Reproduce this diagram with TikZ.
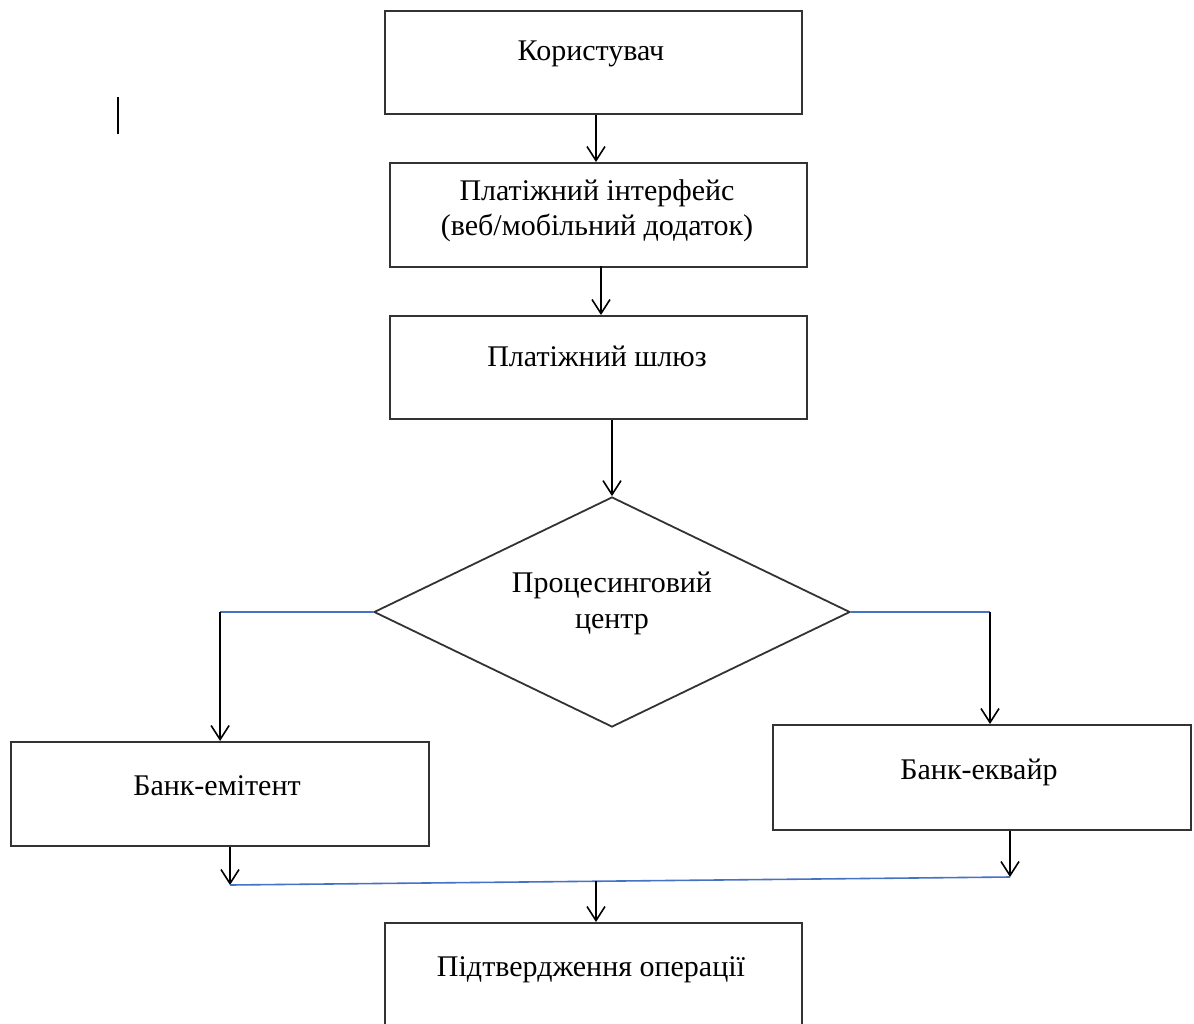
\documentclass[tikz,border=0pt]{standalone}
\usepackage{fontspec}
\setmainfont{Liberation Serif}
\usetikzlibrary{arrows.meta,shapes.geometric,calc}
\definecolor{boxline}{HTML}{333333}
\definecolor{joinblue}{HTML}{4472C4}
\begin{document}
\begin{tikzpicture}[x=1pt,y=-1pt,
  stepbox/.style={draw=boxline,line width=2.2pt,rectangle,inner sep=0pt,anchor=north west},
  decision/.style={draw=boxline,line width=1.8pt,diamond,inner sep=0pt,
    minimum width=476pt,minimum height=230pt,aspect=2.07},
  caption/.style={anchor=base,inner sep=0pt,font=\fontsize{30}{35}\selectfont},
  arr/.style={line width=1.6pt,-{Straight Barb[length=14pt,width=18pt]}},
  blueline/.style={draw=joinblue,line width=1.6pt}]
\useasboundingbox (0,0) rectangle (1194,1023);
\clip (0,0) rectangle (1194,1023);

% stray text cursor mark
\draw[line width=2.8pt] (118,97) -- (118,134);

% boxes
\node[stepbox,minimum width=417pt,minimum height=103pt] (user) at (384,10) {};
\node[stepbox,minimum width=417pt,minimum height=104pt] (ui) at (389,162) {};
\node[stepbox,minimum width=417pt,minimum height=103pt] (gw) at (389,315) {};
\node[decision] (pc) at (612,612) {};
\node[stepbox,minimum width=418pt,minimum height=104pt] (iss) at (10,741) {};
\node[stepbox,minimum width=418pt,minimum height=105pt] (acq) at (772,724) {};
\node[stepbox,minimum width=417pt,minimum height=140pt] (conf) at (384,922) {};

% captions
\node[caption] (tuser) at (591,60) {Користувач};
\node[caption] (tui1) at (597,200) {Платіжний інтерфейс};
\node[caption] (tui2) at (597,235) {(веб/мобільний додаток)};
\node[caption] (tgw) at (597,366) {Платіжний шлюз};
\node[caption] (tpc1) at (612,592) {Процесинговий};
\node[caption] (tpc2) at (612,628) {центр};
\node[caption] (tiss) at (217,795) {Банк-емітент};
\node[caption] (tacq) at (979,779) {Банк-еквайр};
\node[caption] (tconf) at (591,976) {Підтвердження операції};

% branch and merge points
\coordinate (bl) at (pc.west -| iss.north);
\coordinate (br) at (990,612);
\coordinate (ml) at (230,885);
\coordinate (mr) at (1010,877);
\coordinate (mm) at (596,881);

% connectors
\draw[arr] (user.south -| mm) -- (mm |- ui.north);
\draw[arr] (601,266) -- (601,315);
\draw[arr] (gw.south -| pc.north) -- (pc.north);
\draw[blueline] (pc.west) -- (bl);
\draw[blueline] (pc.east) -- (br);
\draw[arr] (bl) -- (iss.north);
\draw[arr] (br) -- (br |- acq.north);
\draw[arr] (ml |- iss.south) -- (ml);
\draw[arr] (mr |- acq.south) -- (mr);
\draw[blueline] (ml) -- (mr);
\draw[arr] (mm) -- (mm |- conf.north);
\end{tikzpicture}
\end{document}
